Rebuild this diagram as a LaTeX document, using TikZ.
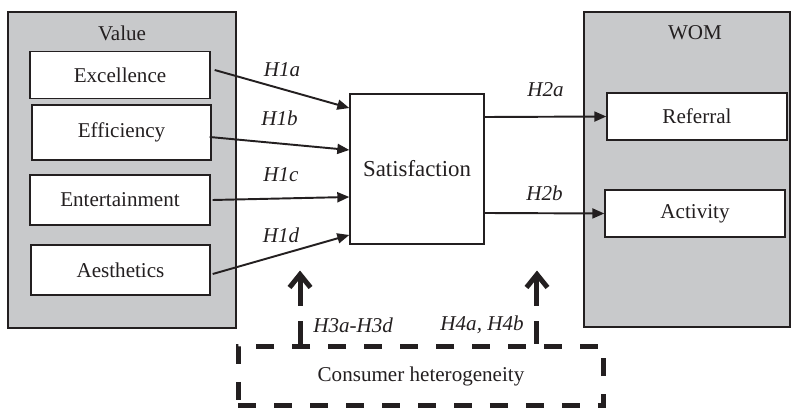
\documentclass[tikz,border=0pt]{standalone}
\usepackage{fontspec}
\setmainfont{Liberation Serif}
\usetikzlibrary{arrows.meta}
\definecolor{inkblack}{HTML}{231F20}
\definecolor{panelgray}{HTML}{C8C9CB}

\begin{document}
\begin{tikzpicture}[x=0.02cm, y=-0.02cm,
        font=\fontsize{12}{14}\selectfont, text=inkblack,
        group/.style={draw=inkblack, line width=0.8pt, fill=panelgray, inner sep=0pt},
        box/.style={draw=inkblack, line width=0.8pt, fill=white, inner sep=0pt,
                    minimum width=3.6cm, minimum height=0.94cm},
        hetero/.style={draw=inkblack, line width=0.1cm, dash pattern=on 0.36cm off 0.36cm,
                       inner sep=0pt},
        arrow/.style={-{Triangle[length=0.24cm, width=0.2cm]}, draw=inkblack, line width=1.1pt},
        modarrow/.style={-{Straight Barb[length=0.26cm, width=0.42cm]}, draw=inkblack,
                         line width=0.1cm, dash pattern=on 0.46cm off 0.3cm on 0.9cm off 0.3cm},
        hyp/.style={font=\fontsize{12}{14}\selectfont\itshape}
      ]
        \useasboundingbox (0,0) rectangle (797,408);

        % value dimensions
        \node[group, minimum width=4.56cm, minimum height=6.32cm] (value) at (122,170) {};
        \node (valuelbl) at (122,33) {Value};
        \node[box] (exc) at (120,75) {Excellence};
        \node[box, minimum width=3.58cm, minimum height=1.1cm] (eff) at (121.5,132.5) {Efficiency};
        \node[box, minimum height=1.0cm] (ent) at (120,200) {Entertainment};
        \node[box, minimum width=3.58cm, minimum height=1.0cm] (aes) at (120.5,270) {Aesthetics};

        \node[box, minimum width=2.68cm, minimum height=3cm, font=\fontsize{13}{15}\selectfont]
          (sat) at (417,169) {Satisfaction};

        % word of mouth
        \node[group, minimum width=4.12cm, minimum height=6.3cm] (wom) at (687,169.5) {};
        \node (womlbl) at (695,33) {WOM};
        \node[box] (ref) at (697,116.5) {Referral};
        \node[box] (act) at (695,213.5) {Activity};

        \node[hetero, minimum width=7.32cm, minimum height=1.2cm] (het) at (421,376)
          {Consumer heterogeneity};

        \draw[arrow] ([shift={(0.08cm,0.1cm)}]exc.east) -- ([yshift=1.22cm]sat.west)
          node[hyp, midway, yshift=0.38cm] {H1a};
        \draw[arrow] ([shift={(-0.04cm,-0.09cm)}]eff.east) -- ([yshift=0.38cm]sat.west)
          node[hyp, midway, yshift=0.51cm] {H1b};
        \draw[arrow] ([xshift=0.04cm]ent.east) -- ([yshift=-0.56cm]sat.west)
          node[hyp, midway, yshift=0.47cm] {H1c};
        \draw[arrow] ([shift={(0.04cm,-0.08cm)}]aes.east) -- ([yshift=-1.32cm]sat.west)
          node[hyp, midway, yshift=0.39cm] {H1d};

        \draw[arrow] ([yshift=1.04cm]sat.east) -- (ref.west)
          node[hyp, midway, yshift=0.54cm] {H2a};
        \draw[arrow] ([yshift=-0.88cm]sat.east) -- (act.west)
          node[hyp, midway, yshift=0.4cm] {H2b};

        % moderating effects
        \draw[modarrow] ([xshift=-2.42cm]het.north) -- ++(0,1.46cm)
          node[hyp, pos=0.25, right, xshift=0.1cm] {H3a-H3d};
        \draw[modarrow] ([xshift=2.32cm]het.north) -- ++(0,1.46cm)
          node[hyp, pos=0.25, left, xshift=-0.1cm] {H4a, H4b};
      \end{tikzpicture}
\end{document}
